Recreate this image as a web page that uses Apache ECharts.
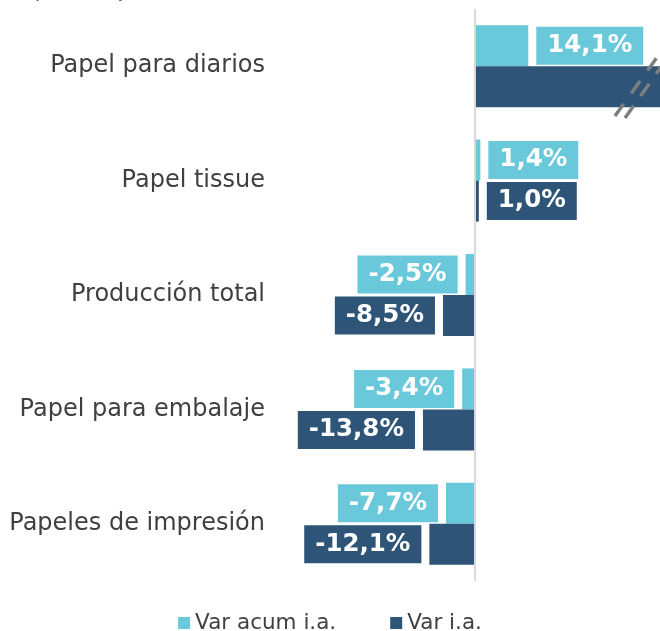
<!DOCTYPE html>
<html>
<head>
<meta charset="utf-8">
<script src="https://cdn.jsdelivr.net/npm/echarts@6/dist/echarts.min.js"></script>
<style>
  html, body { margin: 0; padding: 0; background: #fff; }
  #chart { width: 660px; height: 631px; }
</style>
</head>
<body>
<div id="chart"></div>
<script>
// datos del gráfico
var categorias = ['Papel para diarios', 'Papel tissue', 'Producción total', 'Papel para embalaje', 'Papeles de impresión'];
var varAcum = [14.1, 1.4, -2.5, -3.4, -7.7];
var varIa = [65, 1.0, -8.5, -13.8, -12.1];   // el primero sale cortado en el original
var nombres = ['Var acum i.a.', 'Var i.a.'];
var colores = ['#69c8da', '#2e5578'];

var xMin = -53, xMax = 49;

function fmt(v) {
  return v.toFixed(1).replace('.', ',') + '%';
}

// arma los items con la etiqueta a izquierda o derecha segun el signo
function items(arr, color) {
  return arr.map(function (v) {
    return {
      value: v,
      label: {
        show: v <= xMax,
        position: v < 0 ? 'left' : 'right',
        distance: 8,
        backgroundColor: color,
        color: '#fff',
        fontWeight: 'bold',
        fontSize: 24.5,
        fontFamily: 'DejaVu Sans',
        padding: [7, 11, 6, 11],
        formatter: function (p) { return fmt(p.value); }
      }
    };
  });
}

var chart = echarts.init(document.getElementById('chart'));

var option = {
  animation: false,
  title: {
    text: 'En porcentaje, i.a.',
    left: 0,
    top: -22,
    textStyle: { fontFamily: 'DejaVu Sans', fontSize: 19, fontWeight: 'normal', color: '#595959' }
  },
  legend: {
    data: nombres,
    left: 'center',
    top: 607,
    icon: 'rect',
    itemWidth: 12,
    itemHeight: 12,
    itemGap: 54,
    textStyle: { fontFamily: 'DejaVu Sans', fontSize: 21.5, color: '#404040' }
  },
  grid: { left: 275, right: 0, top: 9, bottom: 50 },
  xAxis: {
    type: 'value',
    min: xMin,
    max: xMax,
    show: false
  },
  yAxis: {
    type: 'category',
    data: categorias,
    inverse: true,
    axisLine: { show: false },
    axisTick: { show: false },
    axisLabel: {
      margin: 10,
      fontFamily: 'DejaVu Sans',
      fontSize: 24,
      color: '#404040'
    }
  },
  series: [
    {
      name: nombres[0],
      type: 'bar',
      barWidth: 41,
      barGap: '0%',
      itemStyle: { color: colores[0] },
      data: items(varAcum, colores[0]),
      markLine: {
        silent: true,
        symbol: 'none',
        label: { show: false },
        lineStyle: { color: '#d9d9d9', width: 2, type: 'solid' },
        data: [{ xAxis: 0 }]
      }
    },
    {
      name: nombres[1],
      type: 'bar',
      barWidth: 41,
      barGap: '0%',
      itemStyle: { color: colores[1] },
      data: items(varIa, colores[1])
    }
  ],
  // marcas de corte sobre la barra que se sale
  graphic: [
    {
      type: 'line', z: 100,
      shape: { x1: 615, y1: 116, x2: 668, y2: 42 },
      style: { stroke: '#7f7f7f', lineWidth: 3.5, lineDash: [15, 13] }
    },
    {
      type: 'line', z: 100,
      shape: { x1: 625, y1: 118, x2: 668, y2: 57 },
      style: { stroke: '#7f7f7f', lineWidth: 3.5, lineDash: [15, 12] }
    }
  ]
};

chart.setOption(option);
</script>
</body>
</html>
